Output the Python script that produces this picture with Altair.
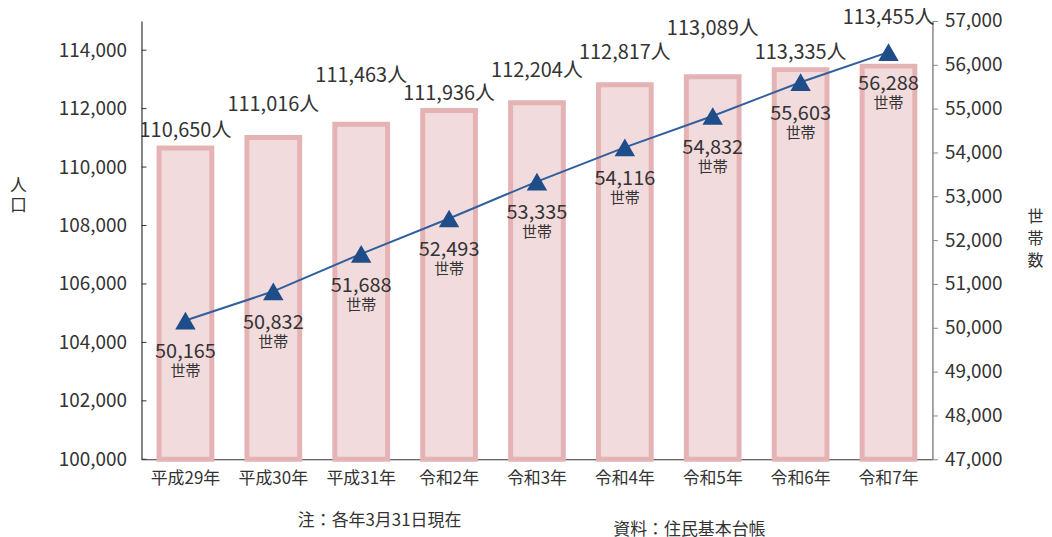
import altair as alt
import pandas as pd

years = ["平成29年", "平成30年", "平成31年", "令和2年", "令和3年", "令和4年", "令和5年", "令和6年", "令和7年"]
population = [110650, 111016, 111463, 111936, 112204, 112817, 113089, 113335, 113455]
households = [50165, 50832, 51688, 52493, 53335, 54116, 54832, 55603, 56288]
pop_label_tier = [0, 1, 2, 0, 1, 1, 2, 0, 2]
left_ticks = [100000, 102000, 104000, 106000, 108000, 110000, 112000, 114000]
right_ticks = [47000, 48000, 49000, 50000, 51000, 52000, 53000, 54000, 55000, 56000, 57000]

df = pd.DataFrame({
    "year": years,
    "pop": population,
    "hh": households,
    "tier": pop_label_tier,
})
df["pop_label"] = [f"{v:,}人" for v in population]
df["hh_label"] = [f"{v:,}" for v in households]
df["base"] = 100000

FONT = "Noto Sans CJK JP"
TXT = "#333333"

x_axis = alt.Axis(title=None, labelAngle=0, labelFontSize=17, labelFont=FONT,
                  labelColor=TXT, labelPadding=11, ticks=False,
                  domainColor="#333333", domainWidth=1.2)
x_scale = alt.Scale(paddingInner=0.4, paddingOuter=0.2)
x_enc = alt.X("year:N", sort=years, scale=x_scale, axis=x_axis)

yl_scale = alt.Scale(domain=[100000, 115000], nice=False, zero=False)
yr_scale = alt.Scale(domain=[47000, 57000], nice=False, zero=False)

yl_axis = alt.Axis(title=["人", "口"], titleAngle=0, titleX=-124, titleY=157,
                   titleAlign="center", titleBaseline="top", titleFontSize=17,
                   titleFontWeight="normal", titleFont=FONT, titleColor=TXT,
                   titleLineHeight=20,
                   values=left_ticks, format=",d", labelFontSize=19, labelFont=FONT,
                   labelColor=TXT, labelPadding=15, ticks=False, grid=False,
                   domainColor="#333333", domainWidth=1.2)

yr_axis = alt.Axis(orient="right", title=["世", "帯", "数"], titleAngle=0,
                   titleX=103, titleY=188, titleAlign="center", titleBaseline="top",
                   titleFontSize=16, titleFontWeight="normal", titleFont=FONT,
                   titleColor=TXT, titleLineHeight=22,
                   values=right_ticks, format=",d",
                   labelFontSize=19, labelFont=FONT, labelColor=TXT,
                   labelPadding=7, tickSize=5, tickColor="#888888",
                   domainColor="#888888", domainWidth=1.5, grid=False)

base = alt.Chart(df)

bars = base.mark_bar(color="#f2dbdc", stroke="#e6b3b5", strokeWidth=5).encode(
    x=x_enc,
    y=alt.Y("pop:Q", scale=yl_scale, axis=yl_axis),
    y2=alt.Y2("base:Q"),
)

tick_df = pd.DataFrame({"pop": left_ticks})
left_tick_marks = alt.Chart(tick_df).mark_rule(color="#333333", strokeWidth=1).encode(
    y=alt.Y("pop:Q", scale=yl_scale, axis=yl_axis),
    x=alt.value(0), x2=alt.value(5),
)

pop_layers = []
for tier, dy in [(0, -17), (1, -32), (2, -48)]:
    pop_layers.append(
        base.transform_filter(alt.datum.tier == tier).mark_text(
            fontSize=20, font=FONT, color=TXT, dy=dy, baseline="middle"
        ).encode(
            x=x_enc,
            y=alt.Y("pop:Q", scale=yl_scale, axis=yl_axis),
            text="pop_label:N",
        )
    )

left = alt.layer(bars, left_tick_marks, *pop_layers)

line = base.mark_line(color="#2f5f9c", strokeWidth=2).encode(
    x=x_enc,
    y=alt.Y("hh:Q", scale=yr_scale, axis=yr_axis),
)

points = base.mark_point(shape="triangle-up", filled=True, size=420, color="#1f4d89",
                         opacity=1).encode(
    x=x_enc,
    y=alt.Y("hh:Q", scale=yr_scale, axis=yr_axis),
)

hh_num = base.mark_text(fontSize=20, font=FONT, color=TXT, dy=32).encode(
    x=x_enc,
    y=alt.Y("hh:Q", scale=yr_scale, axis=yr_axis),
    text="hh_label:N",
)
hh_unit = base.mark_text(fontSize=15, font=FONT, color=TXT, dy=51).encode(
    x=x_enc,
    y=alt.Y("hh:Q", scale=yr_scale, axis=yr_axis),
    text=alt.value("世帯"),
)

right = alt.layer(line, points, hh_num, hh_unit)

note1 = alt.Chart(pd.DataFrame({"t": ["注：各年3月31日現在"]})).mark_text(
    fontSize=17, font=FONT, color=TXT, align="center", baseline="middle"
).encode(text="t:N", x=alt.value(239), y=alt.value(502))
note2 = alt.Chart(pd.DataFrame({"t": ["資料：住民基本台帳"]})).mark_text(
    fontSize=17, font=FONT, color=TXT, align="center", baseline="middle"
).encode(text="t:N", x=alt.value(550), y=alt.value(511))

chart = alt.layer(left, right, note1, note2).resolve_scale(y="independent").properties(
    width=794, height=440,
    autosize=alt.AutoSizeParams(type="none"),
    padding={"left": 134, "top": 12, "right": 112, "bottom": 77},
).configure_view(stroke=None)

chart.save("out.html", embed_options={"renderer": "svg", "actions": False})
